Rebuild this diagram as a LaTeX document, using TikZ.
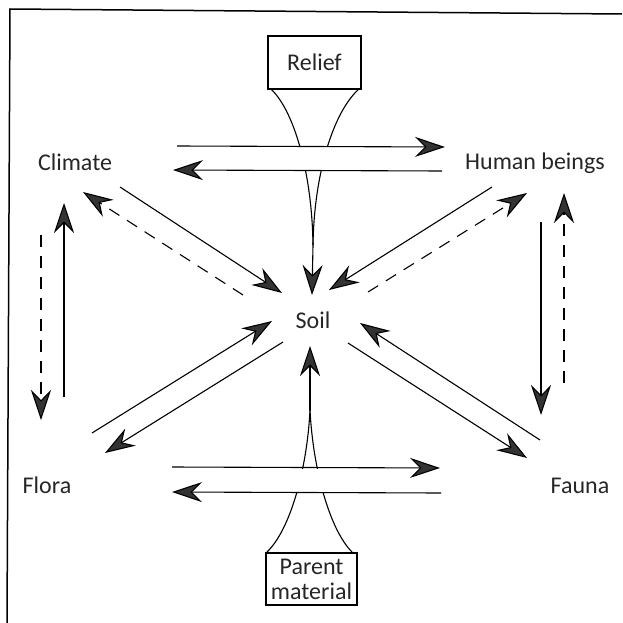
\documentclass[tikz,border=0pt]{standalone}
\usepackage{fontspec}
\setmainfont{Carlito}
\usetikzlibrary{arrows.meta}

\begin{document}
\begin{tikzpicture}[x=1pt,y=-1pt,
  line/.style={line width=1.1pt, draw=black},
  arr/.style={line, -{Stealth[length=30pt,width=20pt,inset=10pt,fill=black!80]}},
  darr/.style={arr, dash pattern=on 12pt off 9pt},
  lbl/.style={font=\fontsize{24}{25}\selectfont, text=black!85, inner sep=0pt},
  boxlbl/.style={lbl, draw=black, line width=1.1pt, align=center}]

\useasboundingbox (0,0) rectangle (622,623);

% outer frame (only top and left edges fall inside the page)
\draw[line width=1.5pt] (7,623) -- (10,9) -- (622,14);

% factor labels
\node[lbl] (climate) at (75,162) {Climate};
\node[lbl] (human) at (535,163) {Human beings};
\node[lbl] (soil) at (313,320) {Soil};
\node[lbl] (flora) at (47,485) {Flora};
\node[lbl] (fauna) at (580,486) {Fauna};

% boxed factors
\node[boxlbl, minimum width=93pt, minimum height=53pt] (relief) at (314.5,62.5) {Relief};
\node[boxlbl, minimum width=91pt, minimum height=52pt] (parent) at (311.5,579) {Parent\\material};

% funnel from Relief down to the soil
\coordinate (rf) at (313,245);
\draw[line] (271,89) .. controls (295,112) and (312,175) .. (rf);
\draw[line] (359,89) .. controls (333,112) and (314,175) .. (rf);
% funnel from parent material up to the soil
\coordinate (pf) at (310,410);
\draw[line] (267,552) .. controls (290,530) and (307,470) .. (pf);
\draw[line] (352,552) .. controls (330,530) and (313,470) .. (pf);

% the funnels break where the horizontal arrows cross them
\fill[white] (290,147) rectangle (340,170);
\fill[white] (285,468.5) rectangle (335,492);

% arrow end points
\coordinate (rs) at (312,295);
\coordinate (ps) at (310,346);
\coordinate (ca1) at (177,146);  \coordinate (ha1) at (445,147);
\coordinate (ha2) at (442,171);  \coordinate (ca2) at (173,170);
\coordinate (fa1) at (172,467);  \coordinate (fb1) at (440,468);
\coordinate (fb2) at (441,493);  \coordinate (fa2) at (172,492);
\coordinate (c1) at (120,187);   \coordinate (s1) at (282,293);
\coordinate (s2) at (243,295);   \coordinate (c2) at (83,192);
\coordinate (h1) at (492,187);   \coordinate (s3) at (329,290);
\coordinate (s4) at (368,292);   \coordinate (h2) at (527,193);
\coordinate (lv1) at (64,397);   \coordinate (lv2) at (64,203);
\coordinate (lv3) at (41,235);   \coordinate (lv4) at (41,420);
\coordinate (rv1) at (541,222);  \coordinate (rv2) at (541,415);
\coordinate (rv3) at (564,383);  \coordinate (rv4) at (564,193);
\coordinate (f1) at (92,433);    \coordinate (s5) at (272,321);
\coordinate (s6) at (283,342);   \coordinate (f2) at (105,453);
\coordinate (a1) at (540,440);   \coordinate (s7) at (360,323);
\coordinate (s8) at (348,343);   \coordinate (a2) at (527,458);

% relief and parent material into the soil
\draw[arr] (rf) -- (rs);
\draw[arr] (pf) -- (ps);

% climate <-> human beings
\draw[arr] (ca1) -- (ha1);
\draw[arr] (ha2) -- (ca2);
% flora <-> fauna
\draw[arr] (fa1) -- (fb1);
\draw[arr] (fb2) -- (fa2);

% climate <-> soil
\draw[arr] (c1) -- (s1);
\draw[darr] (s2) -- (c2);
% human beings <-> soil
\draw[arr] (h1) -- (s3);
\draw[darr] (s4) -- (h2);

% climate <-> flora
\draw[arr] (lv1) -- (lv2);
\draw[darr] (lv3) -- (lv4);
% human beings <-> fauna
\draw[arr] (rv1) -- (rv2);
\draw[darr] (rv3) -- (rv4);

% flora <-> soil
\draw[arr] (f1) -- (s5);
\draw[arr] (s6) -- (f2);
% fauna <-> soil
\draw[arr] (a1) -- (s7);
\draw[arr] (s8) -- (a2);

\end{tikzpicture}
\end{document}
